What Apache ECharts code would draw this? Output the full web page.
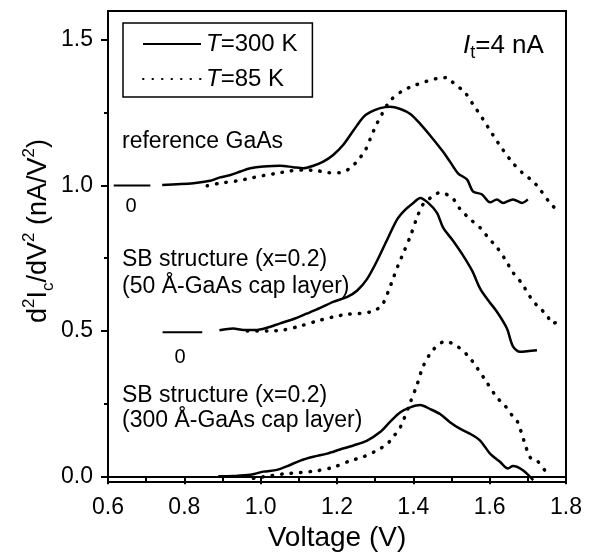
<!DOCTYPE html>
<html>
<head>
<meta charset="utf-8">
<script src="https://cdn.jsdelivr.net/npm/echarts@6/dist/echarts.min.js"></script>
<style>
  html, body { margin: 0; background: #fff; }
  #chart { width: 597px; height: 557px; }
</style>
</head>
<body>
<div id="chart"></div>
<script>
// [voltage (V), d2Ic/dV2 (nA/V2)]
const refGaAs300 = [[0.742,1.002],[0.824,1.008],[0.868,1.016],[0.894,1.028],[0.921,1.036],[0.947,1.048],[0.973,1.059],[1.007,1.065],[1.051,1.068],[1.085,1.063],[1.112,1.059],[1.138,1.068],[1.164,1.082],[1.190,1.105],[1.216,1.139],[1.243,1.189],[1.269,1.235],[1.287,1.252],[1.313,1.266],[1.339,1.271],[1.366,1.263],[1.392,1.246],[1.418,1.212],[1.444,1.172],[1.478,1.116],[1.496,1.082],[1.517,1.042],[1.541,1.020],[1.556,0.980],[1.580,0.969],[1.601,0.942],[1.619,0.952],[1.635,0.940],[1.661,0.952],[1.685,0.940],[1.700,0.952]];
const refGaAs85 = [[0.860,0.999],[0.894,1.008],[0.939,1.016],[0.973,1.025],[1.007,1.034],[1.043,1.042],[1.077,1.050],[1.112,1.053],[1.148,1.051],[1.174,1.044],[1.208,1.044],[1.234,1.059],[1.255,1.087],[1.274,1.121],[1.287,1.160],[1.300,1.200],[1.318,1.246],[1.339,1.291],[1.371,1.325],[1.399,1.342],[1.436,1.359],[1.462,1.368],[1.488,1.371],[1.504,1.354],[1.535,1.320],[1.556,1.280],[1.582,1.229],[1.609,1.173],[1.635,1.122],[1.661,1.077],[1.687,1.042],[1.714,1.014],[1.732,0.986],[1.758,0.940],[1.779,0.912]];
const sb50_300 = [[0.892,0.502],[0.928,0.508],[0.955,0.503],[0.986,0.503],[1.017,0.511],[1.051,0.526],[1.085,0.540],[1.122,0.560],[1.156,0.579],[1.190,0.600],[1.227,0.617],[1.253,0.639],[1.279,0.679],[1.305,0.741],[1.332,0.815],[1.358,0.884],[1.379,0.917],[1.400,0.940],[1.418,0.957],[1.439,0.940],[1.462,0.906],[1.478,0.855],[1.504,0.810],[1.528,0.764],[1.554,0.707],[1.575,0.645],[1.596,0.605],[1.619,0.566],[1.645,0.509],[1.661,0.447],[1.680,0.428],[1.698,0.430],[1.724,0.433]];
const sb50_85 = [[0.965,0.500],[1.017,0.500],[1.059,0.503],[1.104,0.517],[1.148,0.534],[1.190,0.548],[1.227,0.557],[1.261,0.560],[1.295,0.568],[1.318,0.589],[1.334,0.634],[1.347,0.680],[1.360,0.725],[1.373,0.765],[1.392,0.825],[1.410,0.891],[1.426,0.936],[1.449,0.961],[1.470,0.976],[1.502,0.957],[1.523,0.918],[1.549,0.884],[1.575,0.855],[1.596,0.821],[1.619,0.787],[1.640,0.747],[1.661,0.701],[1.685,0.662],[1.706,0.617],[1.727,0.583],[1.750,0.555],[1.763,0.526],[1.784,0.532],[1.792,0.534]];
const sb300_300 = [[0.889,0.000],[0.928,0.001],[0.973,0.005],[1.007,0.016],[1.043,0.022],[1.070,0.035],[1.104,0.054],[1.138,0.067],[1.174,0.078],[1.208,0.092],[1.243,0.106],[1.279,0.123],[1.313,0.152],[1.339,0.187],[1.366,0.220],[1.392,0.237],[1.418,0.245],[1.444,0.231],[1.470,0.214],[1.496,0.186],[1.523,0.163],[1.549,0.146],[1.575,0.123],[1.601,0.078],[1.627,0.050],[1.648,0.027],[1.661,0.035],[1.687,0.021],[1.714,-0.013]];
const sb300_85 = [[0.981,-0.007],[1.017,0.000],[1.059,0.008],[1.104,0.013],[1.148,0.019],[1.190,0.031],[1.234,0.053],[1.269,0.067],[1.305,0.089],[1.332,0.112],[1.347,0.135],[1.366,0.169],[1.392,0.254],[1.410,0.316],[1.426,0.379],[1.452,0.435],[1.484,0.464],[1.515,0.447],[1.544,0.413],[1.567,0.373],[1.593,0.322],[1.619,0.271],[1.640,0.243],[1.659,0.209],[1.672,0.190],[1.690,0.122],[1.706,0.065],[1.724,0.054],[1.750,0.010]];

// short "0" baselines for the two shifted spectra
const zeroRef = [[0.615,1.0],[0.711,1.0]];
const zeroSb50 = [[0.743,0.495],[0.847,0.495]];

const yMajor = [0, 0.5, 1.0, 1.5];
const yMinor = [0.25, 0.75, 1.25];

const FONT = 'Liberation Sans';
const chart = echarts.init(document.getElementById('chart'));

const solid = { color: '#000', width: 2.5 };
const dotted = { color: '#000', width: 3.5, type: [0.5, 9], cap: 'round' };

function curve(name, data, style) {
  return {
    name: name, type: 'line', data: data, showSymbol: false, symbol: 'none',
    smooth: 0.3, lineStyle: style, itemStyle: { color: '#000' }, silent: true
  };
}

function txt(x, y, text, size) {
  return {
    type: 'text', x: x, y: y,
    style: { text: text, fontSize: size || 23, fontFamily: FONT, fill: '#000', verticalAlign: 'middle' }
  };
}

const option = {
  backgroundColor: '#fff',
  animation: false,
  grid: { left: 108, right: 31, top: 11, bottom: 69, show: true, borderColor: '#000', borderWidth: 2 },
  legend: {
    data: ['T=300 K', 'T=85 K'],
    orient: 'vertical', left: 123, top: 23,
    padding: [9, 15, 6, 19], itemGap: 11, itemWidth: 58, itemHeight: 14,
    borderColor: '#000', borderWidth: 1.5,
    itemStyle: { opacity: 0 },
    formatter: n => '{i|T}' + n.slice(1),
    textStyle: {
      fontSize: 24, fontFamily: FONT, color: '#000', lineHeight: 24,
      rich: { i: { fontStyle: 'italic', fontSize: 24, fontFamily: FONT, color: '#000' } }
    }
  },
  xAxis: {
    type: 'value', min: 0.6, max: 1.8, interval: 0.2,
    name: 'Voltage (V)', nameLocation: 'middle', nameGap: 36,
    nameTextStyle: { fontSize: 28, fontFamily: FONT, color: '#000' },
    axisLine: { show: true, lineStyle: { color: '#000', width: 2 } },
    axisTick: { show: true, length: 8, lineStyle: { color: '#000', width: 2 } },
    minorTick: { show: true, splitNumber: 2, length: 5, lineStyle: { color: '#000', width: 2 } },
    splitLine: { show: false },
    axisLabel: { fontSize: 23, fontFamily: FONT, color: '#000', margin: 14, formatter: v => v.toFixed(1) }
  },
  yAxis: [{
    type: 'value', min: -0.02, max: 1.6,
    axisLine: { show: true, lineStyle: { color: '#000', width: 2 } },
    axisTick: { show: true, length: 7, customValues: yMajor, lineStyle: { color: '#000', width: 2 } },
    splitLine: { show: false },
    axisLabel: { fontSize: 23, fontFamily: FONT, color: '#000', margin: 15, customValues: yMajor, formatter: v => v.toFixed(1) }
  }, {
    type: 'value', min: -0.02, max: 1.6, position: 'left',
    axisLine: { show: false },
    axisTick: { show: true, length: 4, customValues: yMinor, lineStyle: { color: '#000', width: 2 } },
    axisLabel: { show: false },
    splitLine: { show: false }
  }],
  graphic: [
    txt(122, 142, 'reference GaAs'),
    txt(122, 260, 'SB structure (x=0.2)'),
    txt(122, 287, '(50 Å-GaAs cap layer)'),
    txt(122, 396, 'SB structure (x=0.2)'),
    txt(122, 421, '(300 Å-GaAs cap layer)'),
    { type: 'text', x: 131, y: 206, style: { text: '0', fontSize: 20, fontFamily: FONT, fill: '#000', align: 'center', verticalAlign: 'middle' } },
    { type: 'text', x: 180, y: 357, style: { text: '0', fontSize: 20, fontFamily: FONT, fill: '#000', align: 'center', verticalAlign: 'middle' } },
    {
      type: 'text', x: 463, y: 46,
      style: {
        text: '{i|I}{s|t}{n|=4 nA}', fontFamily: FONT, fill: '#000', verticalAlign: 'middle',
        rich: {
          i: { fontSize: 26, fontStyle: 'italic', fontFamily: FONT, lineHeight: 32 },
          s: { fontSize: 18, fontFamily: FONT, lineHeight: 16, verticalAlign: 'bottom' },
          n: { fontSize: 26, fontFamily: FONT, lineHeight: 32 }
        }
      }
    },
    {
      type: 'text', x: 39, y: 231, rotation: Math.PI / 2,
      style: {
        text: '{m|d}{p|2}{m|I}{b|c}{m|/dV}{p|2}{m| (nA/V}{p|2}{m|)}',
        fontFamily: FONT, fill: '#000', align: 'center', verticalAlign: 'middle',
        rich: {
          m: { fontSize: 27, fontFamily: FONT, lineHeight: 36 },
          p: { fontSize: 17, fontFamily: FONT, lineHeight: 18, verticalAlign: 'top' },
          b: { fontSize: 17, fontFamily: FONT, lineHeight: 18, verticalAlign: 'bottom' }
        }
      }
    }
  ],
  series: [
    curve('T=300 K', refGaAs300, solid),
    curve('T=85 K', refGaAs85, dotted),
    curve('T=300 K', sb50_300, solid),
    curve('T=85 K', sb50_85, dotted),
    curve('T=300 K', sb300_300, solid),
    curve('T=85 K', sb300_85, dotted),
    { name: 'zero1', type: 'line', data: zeroRef, symbol: 'none', lineStyle: { color: '#000', width: 2 }, silent: true },
    { name: 'zero2', type: 'line', data: zeroSb50, symbol: 'none', lineStyle: { color: '#000', width: 2 }, silent: true }
  ]
};

chart.setOption(option);
</script>
</body>
</html>
